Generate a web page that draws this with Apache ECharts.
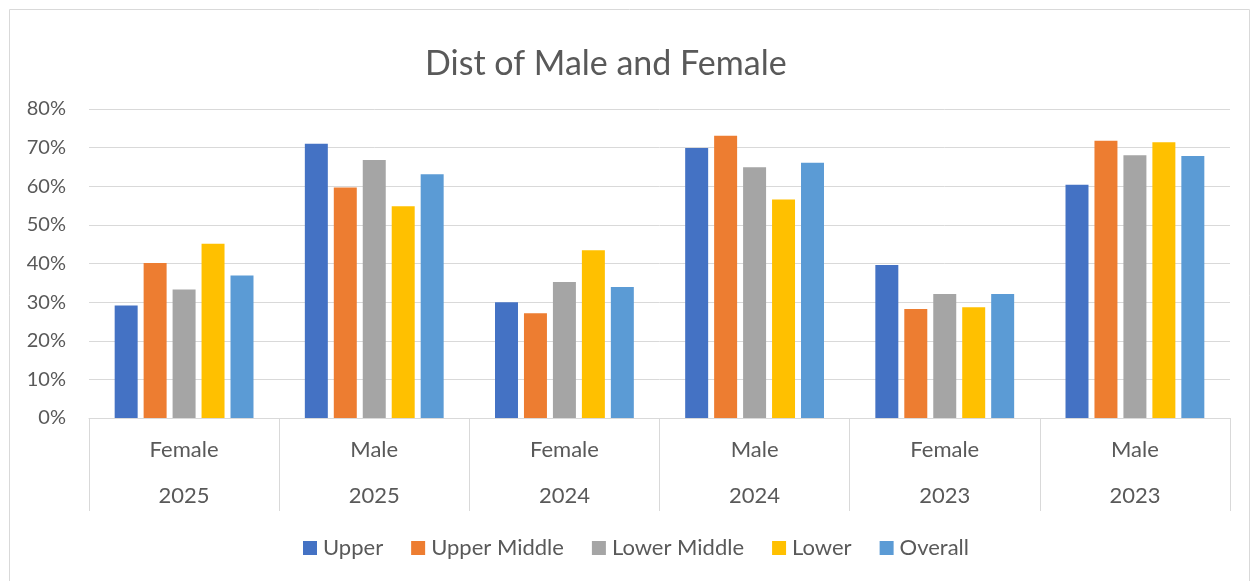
<!DOCTYPE html>
<html>
<head>
<meta charset="utf-8">
<script src="https://cdn.jsdelivr.net/npm/echarts@6/dist/echarts.min.js"></script>
<style>html,body{margin:0;padding:0;background:#fff}#c{width:1254px;height:581px}</style>
</head>
<body>
<div id="c"></div>
<script>
const genders = ['Female','Male','Female','Male','Female','Male'];
const years = ['2025','2025','2024','2024','2023','2023'];
const seriesNames = ['Upper','Upper Middle','Lower Middle','Lower','Overall'];
const upper = [0.291, 0.710, 0.300, 0.699, 0.396, 0.604];
const upperMiddle = [0.401, 0.597, 0.271, 0.731, 0.282, 0.718];
const lowerMiddle = [0.333, 0.668, 0.352, 0.649, 0.321, 0.680];
const lower = [0.451, 0.548, 0.434, 0.566, 0.287, 0.714];
const overall = [0.369, 0.631, 0.339, 0.661, 0.321, 0.678];
const yTicks = [0, 0.1, 0.2, 0.3, 0.4, 0.5, 0.6, 0.7, 0.8];

const colors = ['#4472C4','#ED7D31','#A5A5A5','#FFC000','#5B9BD5'];
const values = [upper, upperMiddle, lowerMiddle, lower, overall];
const FONT = 'Lato';
const categories = genders.map((g, i) => g + '\n' + years[i]);

const chart = echarts.init(document.getElementById('c'));
chart.setOption({
  animation: false,
  textStyle: { fontFamily: FONT },
  graphic: [{
    type: 'rect', shape: { x: 9.5, y: 9.5, width: 1240, height: 600 },
    style: { fill: 'none', stroke: '#d9d9d9', lineWidth: 1 }, silent: true, z: -1
  }],
  title: {
    text: 'Dist of Male and Female',
    left: 425, top: 47, padding: 0,
    textStyle: { fontFamily: FONT, fontSize: 34, fontWeight: 'normal', color: '#595959' }
  },
  legend: {
    data: seriesNames,
    top: 537, left: 303, padding: 0,
    icon: 'rect', itemWidth: 14, itemHeight: 14, itemGap: 28,
    textStyle: { fontFamily: FONT, fontSize: 22, color: '#595959', padding: [0,0,0,1] }
  },
  grid: { left: 89, right: 24, top: 109, bottom: 163, containLabel: false },
  xAxis: {
    type: 'category',
    data: categories,
    axisLine: { show: true, lineStyle: { color: '#d9d9d9', width: 1 } },
    axisTick: { show: true, alignWithLabel: false, interval: 0, length: 93, lineStyle: { color: '#d9d9d9', width: 1 } },
    axisLabel: { interval: 0, margin: 9, color: '#595959', fontSize: 22, fontFamily: FONT, lineHeight: 46 },
    splitLine: { show: false }
  },
  yAxis: {
    type: 'value',
    min: 0, max: 0.8, interval: 0.1,
    axisLine: { show: false },
    axisTick: { show: false },
    axisLabel: {
      margin: 23, color: '#595959', fontSize: 20, fontFamily: FONT,
      formatter: v => Math.round(v * 100) + '%'
    },
    splitLine: { lineStyle: { color: '#d9d9d9', width: 1 } }
  },
  series: seriesNames.map((n, i) => ({
    name: n, type: 'bar', data: values[i],
    itemStyle: { color: colors[i] },
    barGap: '26%', barCategoryGap: '27%'
  }))
});
</script>
</body>
</html>
